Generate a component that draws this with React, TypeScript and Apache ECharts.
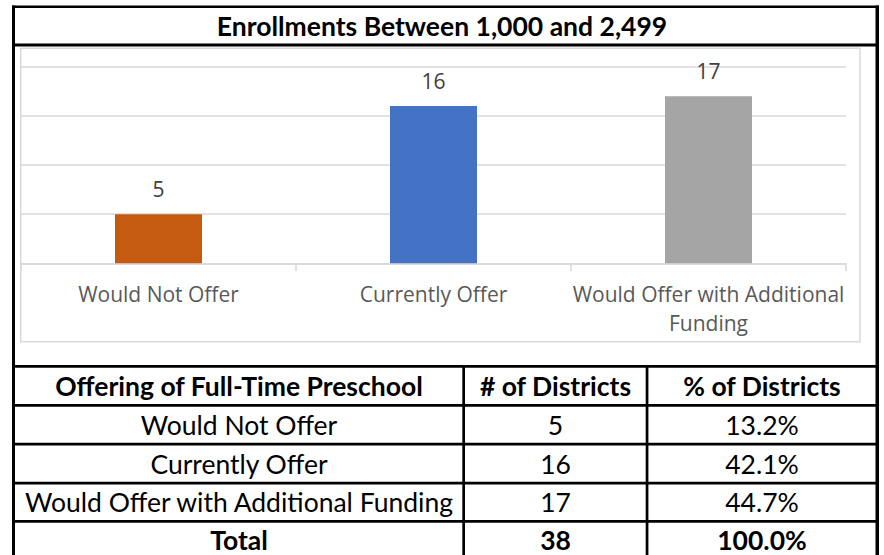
import React, { useEffect, useRef } from "react";
import * as echarts from "echarts";

const chartTitle = "Enrollments Between 1,000 and 2,499";
const categories = ["Would Not Offer", "Currently Offer", "Would Offer with Additional Funding"];
const districtCounts = [5, 16, 17];
const pctLabels = ["13.2%", "42.1%", "44.7%"];
const tableHeaders = ["Offering of Full-Time Preschool", "# of Districts", "% of Districts"];
const totalRow = ["Total", "38", "100.0%"];
const barColors = ["#C55A11", "#4472C4", "#A5A5A5"];

const W = 884;
const H = 555;

export default function App() {
  const ref = useRef<HTMLDivElement>(null);
  useEffect(() => {
    document.body.style.margin = "0";
    if (!ref.current) return;
    const chart = echarts.init(ref.current, null, { renderer: "svg" });

    const tblFont = "Lato";
    const black = "#000000";
    const graphics: any[] = [];
    const bar = (x: number, y: number, w: number, h: number) =>
      graphics.push({ type: "rect", silent: true, shape: { x, y, width: w, height: h }, style: { fill: black } });

    // chart area border
    graphics.push({
      type: "rect",
      silent: true,
      shape: { x: 20.7, y: 48.3, width: 839.3, height: 293.4 },
      style: { fill: "none", stroke: "#D9D9D9", lineWidth: 1.5 },
    });

    // outer frame
    bar(12, 5.5, 867, 2.5);
    bar(12, 5.5, 3, H - 5.5);
    bar(875.5, 5.5, 3.5, H - 5.5);
    bar(12, 43.5, 867, 3);

    // table lines
    const rowLines = [365, 404, 442.7, 481.7, 520];
    rowLines.forEach((y) => bar(12, y, 867, 2.7));
    bar(462.3, 365, 2.7, H - 365);
    bar(645.7, 365, 2.7, H - 365);

    const colCenters = [239, 555.5, 762];
    const rowCenters = [386, 424.5, 463.5, 502, 539.5];

    const addText = (text: string, x: number, y: number, bold: boolean) =>
      graphics.push({
        type: "text",
        silent: true,
        style: {
          text,
          x,
          y,
          fill: black,
          fontSize: 26.5,
          lineHeight: 26,
          fontFamily: tblFont,
          fontWeight: bold ? "bold" : "normal",
          align: "center",
          verticalAlign: "middle",
          textAlign: "center",
          textVerticalAlign: "middle",
        },
      });

    tableHeaders.forEach((t, c) => addText(t, colCenters[c], rowCenters[0], true));
    categories.forEach((cat, r) => {
      addText(cat, colCenters[0], rowCenters[r + 1], false);
      addText(String(districtCounts[r]), colCenters[1], rowCenters[r + 1], false);
      addText(pctLabels[r], colCenters[2], rowCenters[r + 1], false);
    });
    totalRow.forEach((t, c) => addText(t, colCenters[c], rowCenters[4], true));

    chart.setOption({
      animation: false,
      backgroundColor: "#FFFFFF",
      title: {
        text: chartTitle,
        left: "center",
        top: 10,
        padding: 0,
        textStyle: { fontFamily: "Lato", fontWeight: "bold", fontSize: 26.5, color: "#000000", lineHeight: 32 },
      },
      grid: { left: 21, right: W - 846, top: 66.7, bottom: H - 263.3, containLabel: false },
      xAxis: {
        type: "category",
        data: categories,
        axisLine: { lineStyle: { color: "#D9D9D9", width: 1.5 } },
        axisTick: { show: true, length: 8, lineStyle: { color: "#D9D9D9", width: 1.5 } },
        axisLabel: {
          fontFamily: "Open Sans",
          fontSize: 21,
          color: "#595959",
          lineHeight: 29,
          margin: 16,
          interval: 0,
          formatter: (v: string) => v.replace(" Funding", "\nFunding"),
        },
      },
      yAxis: {
        type: "value",
        min: 0,
        max: 20,
        interval: 5,
        axisLabel: { show: false },
        axisLine: { show: false },
        axisTick: { show: false },
        splitLine: { lineStyle: { color: "#D9D9D9", width: 1.5 } },
      },
      series: [
        {
          type: "bar",
          barWidth: 87,
          data: districtCounts.map((v, i) => ({ value: v, itemStyle: { color: barColors[i] } })),
          label: {
            show: true,
            position: "top",
            distance: 15,
            fontFamily: "Open Sans",
            fontSize: 21,
            color: "#404040",
          },
        },
      ],
      graphic: graphics,
    });
    return () => chart.dispose();
  }, []);
  return <div ref={ref} style={{ width: W, height: H }} />;
}
